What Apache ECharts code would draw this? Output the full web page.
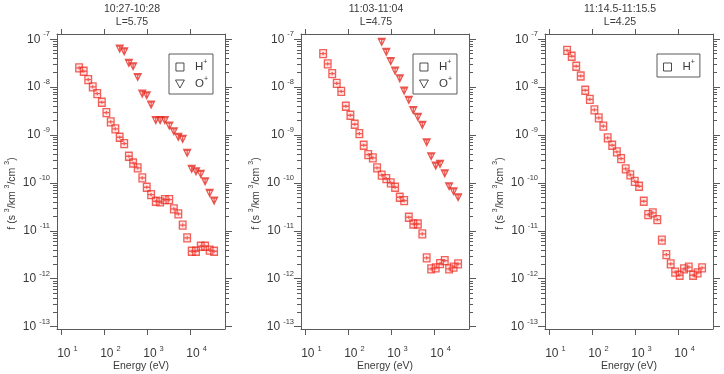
<!DOCTYPE html>
<html>
<head>
<meta charset="utf-8">
<script src="https://cdn.jsdelivr.net/npm/echarts@6/dist/echarts.min.js"></script>
<style>
html, body { margin: 0; padding: 0; background: #fff; }
#chart { width: 724px; height: 374px; }
</style>
</head>
<body>
<div id="chart"></div>
<script>
// energy steps of the analyser (eV), same table in all three intervals
var energies = [25.8, 33, 42, 53.5, 68, 87, 111, 140, 179, 226, 288, 369, 463, 592, 757,
    960, 1213, 1556, 1968, 2523, 3206, 4093, 5200, 6561, 8337, 10640, 13400, 17260, 21780, 27730, 35240];

var titles = ['10:27-10:28', '11:03-11:04', '11:14.5-11:15.5'];
var shells = ['L=5.75', 'L=4.75', 'L=4.25'];

// phase space density f (s^3/km^3/cm^3)
var hPlus1 = [2.52e-8, 2.15e-8, 1.44e-8, 1.01e-8, 7.33e-9, 4.84e-9, 2.94e-9, 1.88e-9, 1.34e-9, 8.99e-10,
    6.62e-10, 3.61e-10, 2.61e-10, 2.06e-10, 1.27e-10, 8.13e-11, 5.70e-11, 4.15e-11, 4.01e-11, 4.48e-11,
    4.48e-11, 2.86e-11, 2.25e-11, 1.31e-11, 7.11e-12, 3.75e-12, 3.75e-12, 4.76e-12, 4.76e-12, 3.94e-12, 3.75e-12];
var oPlus1 = [6.37e-8, 5.61e-8, 3.20e-8, 2.73e-8, 1.63e-8, 7.31e-9, 6.78e-9, 4.32e-9, 2.04e-9, 2.04e-9,
    2.04e-9, 1.57e-9, 1.20e-9, 9.12e-10, 8.30e-10, 4.23e-10, 1.96e-10, 1.75e-10, 1.54e-10, 1.08e-10,
    6.18e-11, 4.27e-11];
var hPlus2 = [5.01e-8, 3.05e-8, 1.91e-8, 1.20e-8, 8.20e-9, 3.99e-9, 2.59e-9, 1.68e-9, 1.07e-9, 6.12e-10,
    3.90e-10, 3.33e-10, 2.06e-10, 1.45e-10, 1.23e-10, 1.00e-10, 8.13e-11, 5.02e-11, 4.27e-11, 1.92e-11,
    1.39e-11, 1.39e-11, 8.61e-12, 2.72e-12, 1.60e-12, 1.68e-12, 2.07e-12, 2.39e-12, 1.60e-12, 1.74e-12, 2.04e-12];
var oPlus2 = [8.79e-8, 5.43e-8, 3.48e-8, 2.21e-8, 1.53e-8, 8.45e-9, 5.41e-9, 3.30e-9, 2.39e-9, 1.63e-9,
    7.08e-10, 3.61e-10, 2.30e-10, 2.49e-10, 1.59e-10, 8.53e-11, 6.71e-11, 5.02e-11];
var hPlus3 = [5.89e-8, 4.42e-8, 2.73e-8, 1.71e-8, 8.61e-9, 5.58e-9, 3.34e-9, 2.28e-9, 1.53e-9, 8.69e-10,
    6.12e-10, 4.44e-10, 3.21e-10, 1.96e-10, 1.47e-10, 1.08e-10, 8.53e-11, 4.15e-11, 2.18e-11, 2.37e-11,
    1.71e-11, 6.37e-12, 3.18e-12, 2.04e-12, 1.37e-12, 1.18e-12, 1.60e-12, 1.74e-12, 1.18e-12, 1.32e-12, 1.68e-12];

// O+ is only above the first steps of the table
var oEnergy1 = energies.slice(9);
var oEnergy2 = energies.slice(13);

// tick labels (powers of ten)
var xDecades = [1, 2, 3, 4];
var yDecades = [-13, -12, -11, -10, -9, -8, -7];

var panels = [
    { h: hPlus1, o: oPlus1, oE: oEnergy1 },
    { h: hPlus2, o: oPlus2, oE: oEnergy2 },
    { h: hPlus3, o: null, oE: null }
];

var gridLeft = [57, 301, 545];
var GRID_W = 168, GRID_TOP = 34, GRID_H = 295;
var X_MIN = 0.898, X_MAX = 4.80, Y_MIN = -13.05, Y_MAX = -6.89;

var AXIS_COLOR = '#5a5a5a';
var TEXT_COLOR = '#3a3a3a';
var FONT = 'Liberation Sans, Arial, sans-serif';

var SQ = 'path://M0,0H10V10H0Z M-1,5H11 M5,3V7';
var TRI = 'path://M0,0H10L5,8Z M5,0V8 M1,1.2H9';

// log minor ticks 2..9 inside each decade
var yMinor = [];
yDecades.slice(0, -1).forEach(function (d) {
    for (var k = 2; k <= 9; k++) yMinor.push(d + Math.log10(k));
});

var supRich = {
    b: { fontSize: 12, lineHeight: 18, color: TEXT_COLOR, fontFamily: FONT },
    s: { fontSize: 7.5, lineHeight: 8, verticalAlign: 'top', color: TEXT_COLOR, fontFamily: FONT, padding: [0, 0, 0, 3] }
};

function toLog(es, fs) {
    return es.map(function (e, i) { return [Math.log10(e), Math.log10(fs[i])]; });
}

var grids = [], xAxes = [], yAxes = [], series = [], legends = [], titleList = [];

panels.forEach(function (p, i) {
    grids.push({ left: gridLeft[i], top: GRID_TOP, width: GRID_W, height: GRID_H, show: false,
        containLabel: false, outerBoundsMode: 'none' });

    var xBase = { type: 'value', gridIndex: i, min: X_MIN, max: X_MAX, splitLine: { show: false },
        axisLine: { lineStyle: { color: AXIS_COLOR } } };
    // bottom axis with labels
    xAxes.push(Object.assign({}, xBase, {
        position: 'bottom',
        name: 'Energy (eV)', nameLocation: 'middle', nameGap: 32, nameMoveOverlap: false,
        nameTextStyle: { fontSize: 10.5, color: TEXT_COLOR, fontFamily: FONT },
        axisTick: { length: 6, lineStyle: { color: AXIS_COLOR }, customValues: xDecades },
        axisLabel: { customValues: xDecades, margin: 16, padding: [0, 0, 0, 12], rich: supRich,
            formatter: function (v) { return '{b|10}{s|' + v + '}'; } }
    }));
    // top mirror
    xAxes.push(Object.assign({}, xBase, {
        position: 'top',
        axisTick: { length: 5, lineStyle: { color: AXIS_COLOR }, customValues: xDecades },
        axisLabel: { show: false }
    }));

    var yBase = { type: 'value', gridIndex: i, min: Y_MIN, max: Y_MAX, splitLine: { show: false },
        axisLine: { lineStyle: { color: AXIS_COLOR } } };
    var yIdx = yAxes.length;
    yAxes.push(Object.assign({}, yBase, {
        position: 'left',
        name: 'f (s {s|3}/km {s|3}/cm {s|3})', nameLocation: 'middle', nameGap: 37, nameMoveOverlap: false,
        nameTextStyle: { fontSize: 10.5, color: TEXT_COLOR, fontFamily: FONT, lineHeight: 16, padding: [0, 24, 0, 0],
            rich: { s: { fontSize: 7, lineHeight: 7, verticalAlign: 'top', color: TEXT_COLOR, fontFamily: FONT } } },
        axisTick: { length: 7, lineStyle: { color: AXIS_COLOR }, customValues: yDecades },
        axisLabel: { customValues: yDecades, margin: 7, rich: supRich,
            formatter: function (v) { return '{b|10}{s|' + v + '}'; } }
    }));
    yAxes.push(Object.assign({}, yBase, {
        position: 'left', axisLine: { show: false },
        axisTick: { length: 4, lineStyle: { color: AXIS_COLOR }, customValues: yMinor },
        axisLabel: { show: false }
    }));
    yAxes.push(Object.assign({}, yBase, {
        position: 'right',
        axisTick: { length: 7, lineStyle: { color: AXIS_COLOR }, customValues: yDecades },
        axisLabel: { show: false }
    }));
    yAxes.push(Object.assign({}, yBase, {
        position: 'right', axisLine: { show: false },
        axisTick: { length: 4, lineStyle: { color: AXIS_COLOR }, customValues: yMinor },
        axisLabel: { show: false }
    }));

    series.push({
        name: 'H+', type: 'scatter', xAxisIndex: i * 2, yAxisIndex: yIdx,
        symbol: SQ, symbolSize: 8, silent: true,
        itemStyle: { color: 'rgba(255,110,100,0.22)', borderColor: 'rgba(235,40,30,0.9)', borderWidth: 1.3 },
        data: toLog(energies, p.h)
    });
    if (p.o) {
        series.push({
            name: 'O+', type: 'scatter', xAxisIndex: i * 2, yAxisIndex: yIdx,
            symbol: TRI, symbolSize: 7, silent: true,
            itemStyle: { color: 'rgba(255,110,100,0.2)', borderColor: 'rgba(228,35,28,0.95)', borderWidth: 1.2 },
            data: toLog(p.oE, p.o)
        });
    }

    var legData = [{ name: 'H+', icon: 'path://M0,0H10V10H0Z' }];
    if (p.o) legData.push({ name: 'O+', icon: 'path://M0,0H10L5,9Z' });
    legends.push({
        orient: 'vertical', left: gridLeft[i] + 112, top: 54,
        padding: [5, 5, 2, 6], itemGap: 1, itemWidth: 14, itemHeight: 8,
        borderColor: AXIS_COLOR, borderWidth: 1, selectedMode: false,
        itemStyle: { color: 'transparent', borderColor: '#222', borderWidth: 1 },
        textStyle: { fontSize: 11.5, color: TEXT_COLOR, fontFamily: FONT, lineHeight: 16, padding: [0, 0, 0, 3],
            rich: { s: { fontSize: 7, lineHeight: 7, verticalAlign: 'top', color: TEXT_COLOR, fontFamily: FONT } } },
        formatter: function (n) { return n.charAt(0) + '{s|+}'; },
        data: legData
    });

    titleList.push({
        text: titles[i] + '\n' + shells[i], left: gridLeft[i] + 75, top: 3, textAlign: 'center', padding: 0,
        textStyle: { fontSize: 10.5, fontWeight: 'normal', color: TEXT_COLOR, fontFamily: FONT, lineHeight: 12.5 }
    });
});

var chart = echarts.init(document.getElementById('chart'));
chart.setOption({
    animation: false,
    title: titleList,
    legend: legends,
    grid: grids,
    xAxis: xAxes,
    yAxis: yAxes,
    series: series
});
</script>
</body>
</html>
